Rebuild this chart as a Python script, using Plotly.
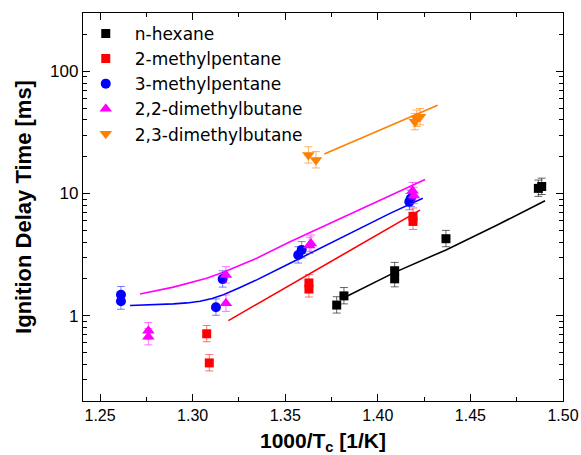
import plotly.graph_objects as go

# ---- measured data (1000/Tc [1/K], ignition delay [ms]) ----
hex_x = [1.3778, 1.3817, 1.4091, 1.4091, 1.4368, 1.4867, 1.4885]
hex_y = [1.22, 1.45, 2.33, 2.0, 4.26, 11.0, 11.4]

mp2_x = [1.3076, 1.3090, 1.3628, 1.3628, 1.4190, 1.4190]
mp2_y = [0.71, 0.41, 1.85, 1.65, 6.5, 5.9]

mp3_x = [1.2613, 1.2613, 1.3126, 1.3162, 1.3570, 1.3589, 1.4170, 1.4178]
mp3_y = [1.48, 1.31, 1.17, 1.99, 3.13, 3.45, 8.55, 9.1]

db22_x = [1.2761, 1.2761, 1.3180, 1.3180, 1.3639, 1.3630, 1.4188, 1.4195]
db22_y = [0.75, 0.67, 2.15, 1.26, 3.9, 3.75, 10.5, 9.6]

db23_x = [1.3625, 1.3666, 1.4210, 1.4228, 1.4200]
db23_y = [20.6, 18.8, 41.1, 42.4, 38.6]

# ---- model / fit curves ----
hex_fit_x = [1.3817, 1.4091, 1.4368, 1.4645, 1.4903]
hex_fit_y = [1.40, 2.26, 3.45, 5.52, 8.71]

mp2_fit_x = [1.3193, 1.4228]
mp2_fit_y = [0.91, 7.3]

mp3_fit_x = [1.2662, 1.2780, 1.2896, 1.2970, 1.3040, 1.3105, 1.3166, 1.3256,
             1.3346, 1.3526, 1.4066, 1.4243]
mp3_fit_y = [1.21, 1.225, 1.247, 1.27, 1.31, 1.38, 1.48, 1.70,
             1.96, 2.68, 6.87, 9.12]

db22_fit_x = [1.2716, 1.2896, 1.3076, 1.3166, 1.3256, 1.3346, 1.3526, 1.3900, 1.4255]
db22_fit_y = [1.50, 1.71, 2.02, 2.26, 2.58, 2.95, 4.03, 7.35, 13.0]

db23_fit_x = [1.3711, 1.4323]
db23_fit_y = [21.0, 52.8]

names = ["n-hexane", "2-methylpentane", "3-methylpentane",
         "2,2-dimethylbutane", "2,3-dimethylbutane"]
colors = ["#000000", "#FF0000", "#0000FF", "#FF00FF", "#FF8000"]
err_colors = ["rgba(0,0,0,0.6)", "rgba(255,0,0,0.55)", "rgba(0,0,255,0.5)",
              "rgba(255,0,255,0.55)", "rgba(255,128,0,0.6)"]
symbols = ["square", "square", "circle", "triangle-up", "triangle-down"]
sizes = [9, 9, 10, 11, 11]

pts = [(hex_x, hex_y), (mp2_x, mp2_y), (mp3_x, mp3_y), (db22_x, db22_y), (db23_x, db23_y)]
fits = [(hex_fit_x, hex_fit_y), (mp2_fit_x, mp2_fit_y), (mp3_fit_x, mp3_fit_y),
        (db22_fit_x, db22_fit_y), (db23_fit_x, db23_fit_y)]

fig = go.Figure()

for i in range(5):
    fx, fy = fits[i]
    fig.add_trace(go.Scatter(
        x=fx, y=fy, mode="lines", showlegend=False,
        line=dict(color=colors[i], width=1.6),
        hoverinfo="skip"))

for i in range(5):
    px, py = pts[i]
    fig.add_trace(go.Scatter(
        x=px, y=py, mode="markers", name=names[i],
        marker=dict(symbol=symbols[i], size=sizes[i], color=colors[i],
                    line=dict(width=0)),
        error_y=dict(type="percent", symmetric=False, value=17, valueminus=14,
                     color=err_colors[i], thickness=1, width=4)))

axis_common = dict(
    showline=True, linecolor="black", linewidth=1.3, mirror="allticks",
    ticks="inside", tickcolor="black", showgrid=False, zeroline=False,
    automargin=False,
)

fig.update_xaxes(
    **axis_common,
    range=[1.2408, 1.50], dtick=0.05, tick0=1.25, tickformat=".2f", ticklen=7,
    minor=dict(ticks="inside", ticklen=4, dtick=0.025, tick0=1.25, tickcolor="black", showgrid=False),
    tickfont=dict(family="Arial, Liberation Sans", size=16, color="black"),
    title=dict(text="<b>1000/T<sub>c</sub> [1/K]</b>",
               font=dict(family="Arial, Liberation Sans", size=21, color="black"),
               standoff=11),
)

fig.update_yaxes(
    **axis_common,
    type="log", range=[-0.699, 2.477], dtick=1, ticklen=7,
    minor=dict(ticks="inside", ticklen=4, dtick="D1", tickcolor="black", showgrid=False),
    tickfont=dict(family="Arial, Liberation Sans", size=17, color="black"),
    title=dict(text="<b>Ignition Delay Time [ms]</b>",
               font=dict(family="Arial, Liberation Sans", size=22, color="black"),
               standoff=12),
)

fig.update_layout(
    width=581, height=455,
    margin=dict(l=83, r=18, t=13, b=54, autoexpand=False),
    paper_bgcolor="white", plot_bgcolor="white",
    showlegend=True,
    legend=dict(x=-0.013, y=0.9925, xanchor="left", yanchor="top",
                bgcolor="rgba(0,0,0,0)", itemwidth=48,
                font=dict(family="DejaVu Sans", size=17, color="black")),
)

fig.write_html("out.html", config={"displayModeBar": False},
               post_script="document.body.style.margin='0';document.body.style.padding='0';")
